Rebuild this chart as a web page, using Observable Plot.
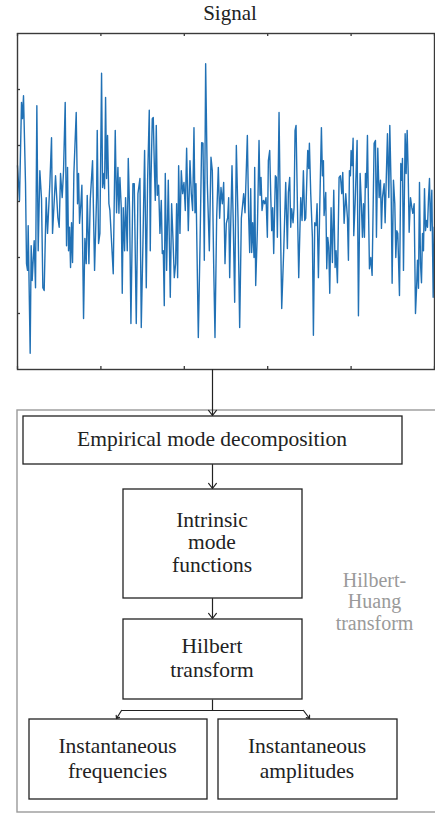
<!DOCTYPE html>
<html>
<head>
<meta charset="utf-8">
<script src="https://cdn.jsdelivr.net/npm/d3@7"></script>
<script src="https://cdn.jsdelivr.net/npm/@observablehq/plot@0.6"></script>
<style>
  html, body { margin: 0; padding: 0; background: #fff; }
  #chart svg { display: block; }
</style>
</head>
<body>
<div id="chart"></div>
<script>
// ---- data ----
const signalTitle = "Signal";
const xTicks = [0, 100, 200, 300, 400, 500];
const yTicks = [-2, -1, 0, 1, 2];

const time = [
  0,2.4,4.8,6,7.2,9.6,10.8,12,12.8,15.2,
  16.4,17.6,18.8,20,21.6,23.2,24.8,26.8,28.8,30.4,
  32,34.4,36,38.8,40.8,42,45.6,48.4,50,51.6,
  53.6,55.2,57.2,58.8,60,61.2,62.4,63.6,64.8,66,
  67.6,70.4,72,73.2,74.4,76,77.2,79.2,80.8,82.4,
  83.6,85.6,87.2,90,92.4,94.8,95.6,97.2,98.8,100.8,
  102,103.6,104.4,105.6,106.8,108,109.6,110.8,114.8,117.2,
  118.8,120.4,121.6,122.8,124.4,125.6,126.8,128.4,129.6,131.6,
  132.8,134.4,136,138.4,140,142.4,144.4,146.8,148.4,150.4,
  152.4,154.4,156,158,159.2,160,161.6,162.8,164,165.2,
  166.4,167.6,169.2,170.8,172.4,173.6,174.8,176,177.2,178.8,
  180.8,183.2,184.8,186.4,188,189.6,190.8,192,193.2,194.8,
  196.4,198,199.6,201.2,202.8,204.8,206.8,208.4,210,211.6,
  212.8,214,216.8,218.8,220.8,222.4,224,225.6,227.6,230,
  232,233.6,235.2,236.8,238.8,240.8,242.4,244,245.6,247.2,
  248.8,250.4,252,253.2,254.4,255.6,257.2,258.8,260.4,262.4,
  264.4,266.4,268.4,271.2,272.8,275.6,277.2,278.4,279.6,280.8,
  282,283.6,284.4,285.6,287.6,289.6,290.8,292,293.2,294.8,
  296.4,298,299.6,300.8,302.4,303.6,304.8,306,307.2,309.2,
  310.4,311.6,313.6,315.2,316.8,319.2,321.6,323.6,324.8,326.4,
  327.6,328.8,330.4,331.6,332.8,334,335.6,337.2,339.6,341.2,
  342.8,344.4,345.6,347.2,348,349.2,350,351.6,353.6,354.8,
  356.4,358,359.2,360.8,362.4,364.4,365.6,366.8,367.6,369.6,
  370.8,372,373.2,374.4,376,377.6,379.2,380.8,382,383.6,
  385.6,387.2,388.8,390,391.6,393.6,395.6,396.8,398,399.2,
  400,401.2,402.4,403.2,404.8,407.2,408.8,410.8,412,413.6,
  414.8,416,417.2,418.4,419.6,420.8,422,423.6,425.2,427.6,
  429.2,430.4,432,433.6,435.2,436.4,437.6,439.6,440.8,442.4,
  443.6,445.2,446.4,448,449.2,450.8,452.4,453.6,454.8,456,
  458,459.6,460.8,461.6,462.8,464.8,466,467.2,468.4,469.6,
  471.2,472.8,474,475.6,477.2,478.4,479.6,480.8,482,483.2,
  484.4,485.6,486.8,488,489.2,490.4,491.6,492.8,494,495.2,
  496.8,498.4,499.6
];

const amplitude = [
  0.64,0.02,1.77,1.48,1.89,0.32,-1.11,-1.23,-0.43,-2.71,
  -0.79,-1.41,-1.05,-0.70,-1.54,1.71,-0.88,0.55,0.05,-1.54,
  -1.59,0.07,-0.57,0.32,1.14,-0.57,0.46,-0.29,-0.46,0.50,
  0.07,0.55,1.77,-0.79,0.61,-0.88,-0.46,-1.18,-0.38,-1.09,
  0.50,1.59,-0.04,0.50,-0.39,-0.04,0.29,-2.09,-0.66,-1.11,
  0.11,-1.11,0.02,0.73,-1.23,0.07,1.27,-0.75,-0.57,2.29,
  0.25,0.50,0.23,1.86,0.41,1.18,-0.04,-0.16,-1.29,1.27,
  -0.20,0.61,-0.21,0.43,-0.11,-1.64,-0.11,-0.88,0.07,-0.88,
  0.77,-0.16,-2.18,0.32,0.32,-2.18,0.14,0.41,-2.25,-0.75,
  0.91,-1.54,0.38,1.63,-0.88,0.32,1.48,1.50,0.68,0.02,
  1.36,0.11,0.29,-0.57,0.02,-0.93,-0.88,-1.86,0.50,-1.23,
  0.38,-1.71,-0.04,-0.66,-1.36,-1.11,-0.04,-1.36,0.64,-0.57,
  0.55,0.14,0.34,-0.16,0.95,-0.52,0.73,0.14,-0.16,1.32,
  -0.20,0.32,-2.43,-0.82,1.05,1.04,-1.05,2.46,0.32,-0.88,
  0.79,0.55,-1.11,-2.43,-0.29,0.61,-0.30,0.25,-0.04,0.34,
  -1.11,-0.39,-0.29,0.07,-1.36,-0.46,0.64,-0.46,-1.80,1.00,
  -0.29,-2.25,-0.30,0.14,-0.20,1.18,-0.29,-0.91,0.23,-0.91,
  -0.38,-1.00,0.61,-1.50,-0.52,1.09,0.11,0.43,-0.16,0.02,
  -0.04,0.07,-0.64,0.73,0.91,0.14,-0.52,-0.11,-0.93,0.46,
  0.43,-0.64,1.59,-0.29,-1.91,-0.88,0.34,-0.84,0.16,0.43,
  -0.46,-0.13,-0.38,-0.11,1.27,1.36,-0.04,-1.36,0.07,-0.34,
  0.55,-0.34,-0.30,0.55,0.91,0.59,1.04,0.14,-0.64,-2.39,
  -0.38,-0.43,-0.04,-1.36,-0.11,1.32,0.46,0.73,-0.25,0.16,
  -1.20,-0.64,-0.82,-1.64,-0.11,-1.09,0.20,-1.18,-0.88,-1.45,
  0.43,0.46,0.14,0.52,-0.39,0.14,-0.29,-1.05,0.55,0.46,
  0.91,0.64,1.13,-0.61,-0.04,1.09,-2.04,0.50,0.07,-0.64,
  -0.04,-0.64,0.50,0.25,1.18,-0.07,-1.20,-1.00,-1.32,1.04,
  1.09,-0.64,0.95,0.07,0.38,-0.48,0.07,0.32,-0.38,0.55,
  1.21,0.07,1.36,0.23,-1.46,0.38,-0.04,-1.00,-0.52,-0.57,
  -1.68,0.68,0.38,0.77,-1.23,1.21,0.50,1.27,0.55,-0.55,
  0.07,-0.11,-0.21,-0.04,-2.00,-1.59,-1.05,-1.55,0.34,-1.11,
  -1.45,-0.57,-0.88,0.23,-0.52,-0.34,-0.46,0.05,0.41,-0.52,
  0.20,-1.71,-0.46
];

const stepLabels = ["Empirical mode decomposition", "Intrinsic\nmode\nfunctions", "Hilbert\ntransform"];
const outputLabels = ["Instantaneous\nfrequencies", "Instantaneous\namplitudes"];
const groupLabel = "Hilbert-\nHuang\ntransform";

// ---- signal chart ----
const FONT = "'Liberation Serif', 'Times New Roman', serif";
const n = Math.min(time.length, amplitude.length);
const signal = d3.range(n).map(i => ({t: time[i], v: amplitude[i]}));
const tickLenY = 0.055;   // inward tick length in y units
const tickLenX = 3.6;     // inward tick length in x units

const signalPlot = Plot.plot({
  width: 435, height: 370,
  marginTop: 33, marginBottom: 1, marginLeft: 17, marginRight: 1,
  x: {domain: [0, 500], axis: null},
  y: {domain: [-3, 3], axis: null},
  style: {fontFamily: FONT, background: "white", overflow: "visible"},
  marks: [
    Plot.line(signal, {x: "t", y: "v", stroke: "#2171b5", strokeWidth: 1.4}),
    Plot.frame({stroke: "#3a3a3a", strokeWidth: 1.4}),
    Plot.ruleX(xTicks, {x: d => d, y1: 3, y2: 3 - tickLenY, stroke: "#3a3a3a", strokeWidth: 1.3}),
    Plot.ruleX(xTicks, {x: d => d, y1: -3, y2: -3 + tickLenY, stroke: "#3a3a3a", strokeWidth: 1.3}),
    Plot.ruleY(yTicks, {y: d => d, x1: 0, x2: tickLenX, stroke: "#3a3a3a", strokeWidth: 1.3}),
    Plot.text([signalTitle], {frameAnchor: "top", dx: 4, dy: -13.5, lineAnchor: "bottom",
      fontSize: 21, fill: "#222", text: d => d})
  ]
});

// ---- flowchart ----
const cx = 212;
const boxes = [
  {x1: 23,  x2: 402, y1: 46,  y2: 94,  label: stepLabels[0],   lh: 1.05},
  {x1: 123, x2: 302, y1: 119, y2: 228, label: stepLabels[1],   lh: 1.06},
  {x1: 123, x2: 302, y1: 249, y2: 329, label: stepLabels[2],   lh: 1.1},
  {x1: 29,  x2: 207, y1: 349, y2: 429, label: outputLabels[0], lh: 1.18},
  {x1: 218, x2: 397, y1: 349, y2: 429, label: outputLabels[1], lh: 1.18}
];
const arrows = [
  {x1: cx, y1: -1,  x2: cx, y2: 45},
  {x1: cx, y1: 94,  x2: cx, y2: 118},
  {x1: cx, y1: 228, x2: cx, y2: 248}
];
const branchArrows = [
  {x1: 121, y1: 340, x2: 116, y2: 348},
  {x1: 303, y1: 340, x2: 309, y2: 348}
];
const ink = "#222";

const flowPlot = Plot.plot({
  width: 435, height: 444,
  margin: 0,
  x: {domain: [0, 435], range: [0, 435], axis: null},
  y: {domain: [0, 444], range: [0, 444], axis: null},
  style: {fontFamily: FONT, background: "white", overflow: "visible"},
  marks: [
    Plot.rect([{x1: 17, x2: 440, y1: 40, y2: 442}], {x1: "x1", x2: "x2", y1: "y1", y2: "y2",
      fill: "none", stroke: "#9a9a9a", strokeWidth: 1.4}),
    Plot.rect(boxes, {x1: "x1", x2: "x2", y1: "y1", y2: "y2", fill: "white", stroke: ink, strokeWidth: 1.3}),
    ...boxes.map(b => Plot.text([b], {x: d => (d.x1 + d.x2) / 2 - 1, y: d => (d.y1 + d.y2) / 2,
      dy: -2, text: "label", fontSize: 21.5, lineHeight: b.lh, fill: "#222"})),
    Plot.arrow(arrows, {x1: "x1", y1: "y1", x2: "x2", y2: "y2", stroke: ink, strokeWidth: 1.2,
      headLength: 8, headAngle: 75}),
    Plot.link([{x1: cx, y1: 329, x2: cx, y2: 340}, {x1: 121, y1: 340, x2: 303, y2: 340}],
      {x1: "x1", y1: "y1", x2: "x2", y2: "y2", stroke: ink, strokeWidth: 1.2}),
    Plot.arrow(branchArrows, {x1: "x1", y1: "y1", x2: "x2", y2: "y2", stroke: ink, strokeWidth: 1.2,
      headLength: 8, headAngle: 75}),
    Plot.text([groupLabel], {x: 374, y: 231, text: d => d, fontSize: 20, lineHeight: 1.08, fill: "#9a9a9a"})
  ]
});

document.getElementById("chart").append(signalPlot, flowPlot);
</script>
</body>
</html>
